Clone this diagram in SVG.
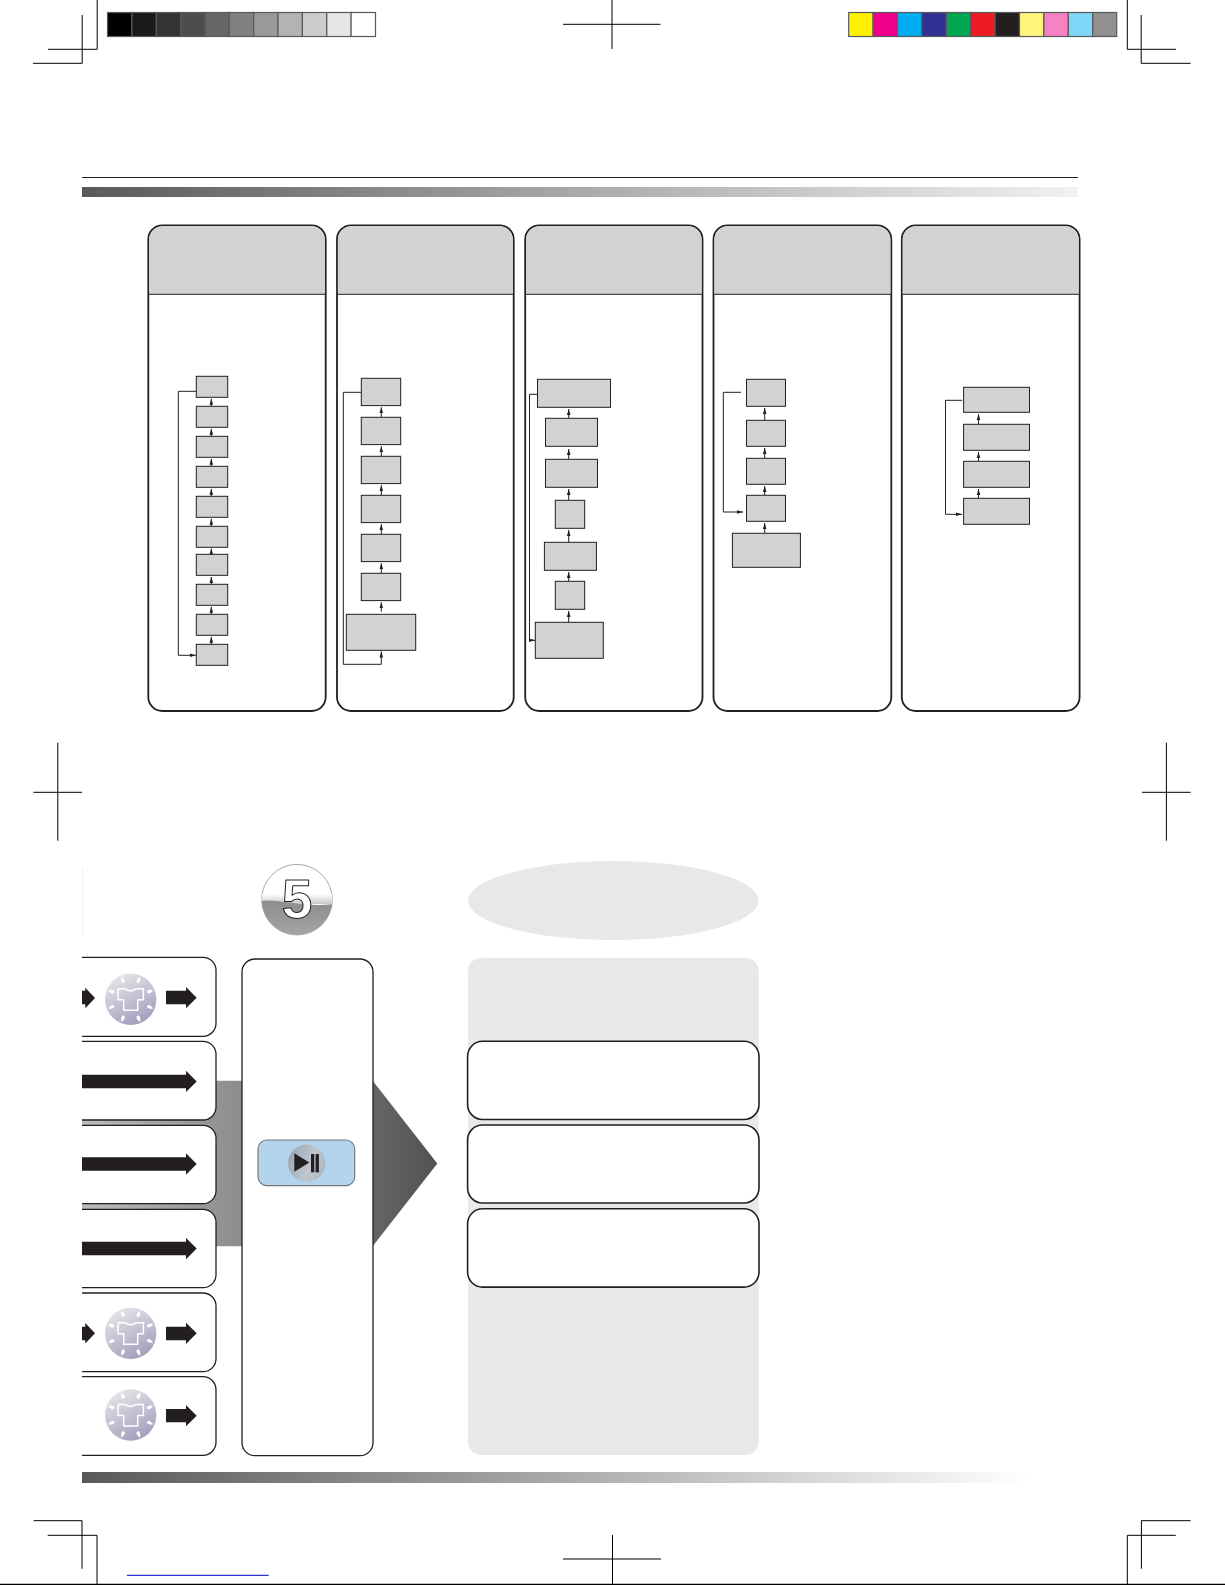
<svg xmlns="http://www.w3.org/2000/svg" xmlns:xlink="http://www.w3.org/1999/xlink" width="1225" height="1585" viewBox="0 0 1225 1585">
<style>
.crop{stroke:#000;stroke-width:1;fill:none}
.sw{stroke:#58595b;stroke-width:1.2}
.panel{fill:#fff;stroke:#231f20;stroke-width:1.8}
.head{fill:#d2d2d2}
.div{stroke:#231f20;stroke-width:1;fill:none}
.n{fill:#d2d2d2;stroke:#231f20;stroke-width:1}
.c{fill:none;stroke:#231f20;stroke-width:1}
.card{fill:#fff;stroke:#231f20;stroke-width:1.3}
.ar{fill:#231f20}
</style>
<defs>
<marker id="a" markerUnits="userSpaceOnUse" markerWidth="8" markerHeight="6" refX="6" refY="3" orient="auto"><path d="M0,1.2 L6,3 L0,4.8Z" fill="#231f20"/></marker>
<linearGradient id="bar1" x1="0" x2="1" y1="0" y2="0"><stop offset="0" stop-color="#58595b"/><stop offset=".5" stop-color="#a9a9a9"/><stop offset="1" stop-color="#f1f1f2"/></linearGradient>
<linearGradient id="bar2" x1="0" x2="1" y1="0" y2="0"><stop offset="0" stop-color="#58595b"/><stop offset=".5" stop-color="#a9a9a9"/><stop offset="1" stop-color="#fff"/></linearGradient>
<linearGradient id="flow" gradientUnits="userSpaceOnUse" x1="82" x2="437" y1="0" y2="0"><stop offset="0" stop-color="#bcbaba"/><stop offset="1" stop-color="#535152"/></linearGradient>
<linearGradient id="shirtbg" x1="0.2" y1="0" x2="0.7" y2="1"><stop offset="0" stop-color="#e8e8ea"/><stop offset="1" stop-color="#a09dbb"/></linearGradient>
<linearGradient id="badgeTop" x1="0" x2="0" y1="0" y2="1"><stop offset="0" stop-color="#fff"/><stop offset="1" stop-color="#c8c8c8"/></linearGradient>
<linearGradient id="badgeLow" gradientUnits="userSpaceOnUse" x1="0" x2="0" y1="902" y2="936"><stop offset="0" stop-color="#8f8d8e"/><stop offset="1" stop-color="#a5a5a6"/></linearGradient>
<linearGradient id="disc" x1="0" y1="0.3" x2="1" y2="0.7"><stop offset="0" stop-color="#9aa7b3"/><stop offset=".6" stop-color="#bfc8cf"/><stop offset="1" stop-color="#aab6c0"/></linearGradient>
<clipPath id="badgeClip"><circle cx="297" cy="899.7" r="35.3"/></clipPath>
<path id="drop" d="M0,-3.6 C2.3,0 2.3,3 0,3 C-2.3,3 -2.3,0 0,-3.6Z" fill="#fff"/>
<g id="shirtIcon">
<circle r="25.7" fill="url(#shirtbg)"/>
<use xlink:href="#drop" transform="rotate(22.5) translate(0,-20.8)"/>
<use xlink:href="#drop" transform="rotate(67.5) translate(0,-20.8)"/>
<use xlink:href="#drop" transform="rotate(112.5) translate(0,-20.8)"/>
<use xlink:href="#drop" transform="rotate(157.5) translate(0,-20.8)"/>
<use xlink:href="#drop" transform="rotate(-157.5) translate(0,-20.8)"/>
<use xlink:href="#drop" transform="rotate(-112.5) translate(0,-20.8)"/>
<use xlink:href="#drop" transform="rotate(-67.5) translate(0,-20.8)"/>
<use xlink:href="#drop" transform="rotate(-22.5) translate(0,-20.8)"/>
<path d="M-5,-10.5 Q0,-6.5 5,-10.5 L12.7,-10.5 L12.7,0.5 L7,0.5 L7,11 L-7,11 L-7,0.5 L-12.7,0.5 L-12.7,-10.5Z" fill="none" stroke="#fff" stroke-width="1.5" stroke-linejoin="round"/>
</g>
</defs>
<rect width="1225" height="1585" fill="#fff"/>

<g id="crop-marks" class="crop">
<path d="M97.2,0V49.3H48M82.2,15V63.3H33"/>
<path d="M612,0V49M563,24.3H660.5"/>
<path d="M1127.3,0V49.3H1176M1141.2,15V63.3H1190.6"/>
<path d="M57.8,742.7V840.7M33.4,792.3H82"/>
<path d="M1166.4,742.7V840.7M1142,792.3H1190.6"/>
<path d="M33.6,1520.7H82V1568.7M47.7,1535.3H97V1585"/>
<path d="M612.5,1535V1584M563,1559H661"/>
<path d="M1190.6,1520.7H1141.4V1568.7M1175.8,1535.3H1127.3V1585"/>
<path d="M0,1584.4H1225" stroke-width="1.4"/>
<path d="M127,1575.3H268.7" stroke="#0000cc"/>
</g>

<g id="gray-swatches" class="sw">
<rect x="107.5" y="12.5" width="24.4" height="24" fill="#000"/>
<rect x="131.9" y="12.5" width="24.4" height="24" fill="#1a1a1a"/>
<rect x="156.3" y="12.5" width="24.4" height="24" fill="#333"/>
<rect x="180.6" y="12.5" width="24.4" height="24" fill="#4d4d4d"/>
<rect x="205" y="12.5" width="24.4" height="24" fill="#666"/>
<rect x="229.3" y="12.5" width="24.4" height="24" fill="#808080"/>
<rect x="253.7" y="12.5" width="24.4" height="24" fill="#999"/>
<rect x="278" y="12.5" width="24.4" height="24" fill="#b3b3b3"/>
<rect x="302.4" y="12.5" width="24.4" height="24" fill="#ccc"/>
<rect x="326.8" y="12.5" width="24.4" height="24" fill="#e6e6e6"/>
<rect x="351.1" y="12.5" width="24.4" height="24" fill="#fff"/>
</g>
<g id="colour-swatches" class="sw">
<rect x="848.7" y="12.5" width="24.4" height="24" fill="#fff200"/>
<rect x="873.1" y="12.5" width="24.4" height="24" fill="#ec008c"/>
<rect x="897.5" y="12.5" width="24.4" height="24" fill="#00aeef"/>
<rect x="921.9" y="12.5" width="24.4" height="24" fill="#2e3192"/>
<rect x="946.3" y="12.5" width="24.4" height="24" fill="#00a651"/>
<rect x="970.7" y="12.5" width="24.4" height="24" fill="#ed1c24"/>
<rect x="995.1" y="12.5" width="24.4" height="24" fill="#231f20"/>
<rect x="1019.5" y="12.5" width="24.4" height="24" fill="#fff57c"/>
<rect x="1043.9" y="12.5" width="24.4" height="24" fill="#f682c4"/>
<rect x="1068.3" y="12.5" width="24.4" height="24" fill="#7fd6f7"/>
<rect x="1092.7" y="12.5" width="24" height="24" fill="#918f8f"/>
</g>

<g id="page-header">
<path d="M82,177.5H1078" stroke="#231f20" stroke-width="1"/>
<rect x="82" y="187" width="996" height="10" fill="url(#bar1)"/>
</g>

<g id="panel-1">
<rect class="panel" x="148.3" y="225.3" width="177.4" height="485.7" rx="14"/>
<path class="head" d="M149.2,294V240a14,14 0 0 1 14,-14H311a14,14 0 0 1 13.8,14V294Z"/>
<path class="div" d="M148.3,294.3H325.7"/>
</g>
<g id="panel-2">
<rect class="panel" x="337" y="225.3" width="176.7" height="485.7" rx="14"/>
<path class="head" d="M337.9,294V240a14,14 0 0 1 14,-14H499a14,14 0 0 1 13.8,14V294Z"/>
<path class="div" d="M337,294.3H513.7"/>
</g>
<g id="panel-3">
<rect class="panel" x="525.2" y="225.3" width="177.3" height="485.7" rx="14"/>
<path class="head" d="M526.1,294V240a14,14 0 0 1 14,-14H687.7a14,14 0 0 1 13.9,14V294Z"/>
<path class="div" d="M525.2,294.3H702.5"/>
</g>
<g id="panel-4">
<rect class="panel" x="713.5" y="225.3" width="177.8" height="485.7" rx="14"/>
<path class="head" d="M714.4,294V240a14,14 0 0 1 14,-14H876.5a14,14 0 0 1 13.9,14V294Z"/>
<path class="div" d="M713.5,294.3H891.3"/>
</g>
<g id="panel-5">
<rect class="panel" x="901.8" y="225.3" width="177.8" height="485.7" rx="14"/>
<path class="head" d="M902.7,294V240a14,14 0 0 1 14,-14H1064.8a14,14 0 0 1 13.9,14V294Z"/>
<path class="div" d="M901.8,294.3H1079.6"/>
</g>

<g id="connectors" class="c">
<path marker-end="url(#a)" d="M211.3,406.3V398.8"/>
<path marker-end="url(#a)" d="M211.3,436.3V428.8"/>
<path marker-end="url(#a)" d="M211.3,466.3V458.8"/>
<path marker-end="url(#a)" d="M211.3,496.3V488.8"/>
<path marker-end="url(#a)" d="M211.3,526.3V518.8"/>
<path marker-end="url(#a)" d="M211.3,554.3V548.5"/>
<path marker-end="url(#a)" d="M211.3,584.3V577"/>
<path marker-end="url(#a)" d="M211.3,614.3V606.8"/>
<path marker-end="url(#a)" d="M211.3,644.3V636.8"/>
<path marker-end="url(#a)" d="M196.3,391.3H178.3V655.3H195.8"/>
<path marker-end="url(#a)" d="M381.3,417.3V407.2"/>
<path marker-end="url(#a)" d="M381.3,456.3V446.2"/>
<path marker-end="url(#a)" d="M381.3,495.3V485.2"/>
<path marker-end="url(#a)" d="M381.3,534.3V524.2"/>
<path marker-end="url(#a)" d="M381.3,573.3V563.2"/>
<path marker-end="url(#a)" d="M381.3,611.7V602.2"/>
<path marker-end="url(#a)" d="M361.3,392.3H343.3V664.3H381.3V651.5"/>
<path marker-end="url(#a)" d="M568.7,418.3V409"/>
<path marker-end="url(#a)" d="M568.7,459.3V449"/>
<path marker-end="url(#a)" d="M568.7,500.3V489"/>
<path marker-end="url(#a)" d="M568.7,542.3V530"/>
<path marker-end="url(#a)" d="M568.7,581.3V572"/>
<path marker-end="url(#a)" d="M568.7,622.3V611"/>
<path marker-end="url(#a)" d="M537.5,394.3H529.5V640.3H535"/>
<path marker-end="url(#a)" d="M764.7,420.3V408"/>
<path marker-end="url(#a)" d="M764.7,458.3V448"/>
<path marker-end="url(#a)" d="M764.7,495.3V486"/>
<path marker-end="url(#a)" d="M764.7,533.3V523"/>
<path marker-end="url(#a)" d="M741,392.3H723.3V512H743"/>
<path marker-end="url(#a)" d="M978.5,424.3V414"/>
<path marker-end="url(#a)" d="M978.5,461.3V452"/>
<path marker-end="url(#a)" d="M978.5,498.3V489"/>
<path marker-end="url(#a)" d="M962.2,400.3H945.5V514.3H962"/>
</g>

<g id="chart-1" class="n">
<rect x="196.3" y="376.3" width="31.4" height="21"/>
<rect x="196.3" y="406.3" width="31.4" height="21"/>
<rect x="196.3" y="436.3" width="31.4" height="21"/>
<rect x="196.3" y="466.3" width="31.4" height="21"/>
<rect x="196.3" y="496.3" width="31.4" height="21"/>
<rect x="196.3" y="526.3" width="31.4" height="21"/>
<rect x="196.3" y="554.3" width="31.4" height="21"/>
<rect x="196.3" y="584.3" width="31.4" height="21"/>
<rect x="196.3" y="614.3" width="31.4" height="21"/>
<rect x="196.3" y="644.3" width="31.4" height="21"/>
</g>
<g id="chart-2" class="n">
<rect x="361.3" y="378.3" width="39.4" height="27.3"/>
<rect x="361.3" y="417.3" width="39.4" height="27.3"/>
<rect x="361.3" y="456.3" width="39.4" height="27.3"/>
<rect x="361.3" y="495.3" width="39.4" height="27.3"/>
<rect x="361.3" y="534.3" width="39.4" height="27.3"/>
<rect x="361.3" y="573.3" width="39.4" height="27.3"/>
<rect x="346.3" y="614.3" width="69.4" height="36"/>
</g>
<g id="chart-3" class="n">
<rect x="537.5" y="379.3" width="73" height="28"/>
<rect x="545.5" y="418.3" width="52" height="28"/>
<rect x="545.5" y="459.3" width="52" height="28"/>
<rect x="555.3" y="500.3" width="29.4" height="28"/>
<rect x="544.4" y="542.3" width="52" height="28"/>
<rect x="555.3" y="581.3" width="29.4" height="28"/>
<rect x="535.3" y="622.3" width="68" height="36"/>
</g>
<g id="chart-4" class="n">
<rect x="746.5" y="379.3" width="39" height="27"/>
<rect x="746.5" y="420.3" width="39" height="26"/>
<rect x="746.5" y="458.3" width="39" height="26"/>
<rect x="746.5" y="495.3" width="39" height="26"/>
<rect x="732.4" y="533.3" width="68" height="34"/>
</g>
<g id="chart-5" class="n">
<rect x="963.6" y="387.3" width="65.9" height="25"/>
<rect x="963.6" y="424.3" width="65.9" height="26"/>
<rect x="963.6" y="461.3" width="65.9" height="26"/>
<rect x="963.6" y="498.3" width="65.9" height="26"/>
</g>

<g id="step-badge">
<circle cx="297" cy="899.7" r="35.3" fill="#fff" stroke="#a7a9ac" stroke-width="1"/>
<g clip-path="url(#badgeClip)">
<rect x="261" y="894" width="72" height="10" fill="url(#badgeTop)"/>
<path d="M261,901 C280,898 300,908 333,904 V940 H261Z" fill="url(#badgeLow)"/>
</g>
<text x="297" y="918" text-anchor="middle" font-family="'Liberation Sans',Arial,sans-serif" font-weight="bold" font-size="55" fill="#fff" stroke="#231f20" stroke-width="1" stroke-linejoin="round">5</text>
</g>

<g id="flow-arrow">
<path d="M82,1080.7H372.7L437.3,1163.5L372.7,1246.3H82Z" fill="url(#flow)"/>
</g>

<g id="left-strip">
<path d="M82.7,868V935" stroke="#eeeeee" stroke-width="1" fill="none"/>
</g>

<g id="card-1">
<path class="card" d="M82,957.3H203a13,13 0 0 1 13,13V1023.3a13,13 0 0 1 -13,13H82"/>
<path class="ar" d="M82,990.7H85.3V987.8L95,998L85.3,1008.3V1004.3H82Z"/>
<use xlink:href="#shirtIcon" x="130.7" y="999.3"/>
<path class="ar" d="M166,990.7H186V987L196.7,997.7L186,1008.3V1004.3H166Z"/>
</g>
<g id="card-2">
<path class="card" d="M82,1041.3H203a13,13 0 0 1 13,13V1107a13,13 0 0 1 -13,13H82"/>
<path class="ar" d="M82,1074.7H186V1070.7L196.7,1081.5L186,1092V1088.3H82Z"/>
</g>
<g id="card-3">
<path class="card" d="M82,1125.3H203a13,13 0 0 1 13,13V1190.7a13,13 0 0 1 -13,13H82"/>
<path class="ar" d="M82,1157.2H186V1153.3L196.7,1164L186,1174.7V1170.8H82Z"/>
</g>
<g id="card-4">
<path class="card" d="M82,1209.3H203a13,13 0 0 1 13,13V1274.7a13,13 0 0 1 -13,13H82"/>
<path class="ar" d="M82,1241.7H186V1238L196.7,1248.5L186,1259.3V1255.3H82Z"/>
</g>
<g id="card-5">
<path class="card" d="M82,1293H203a13,13 0 0 1 13,13V1358.7a13,13 0 0 1 -13,13H82"/>
<path class="ar" d="M82,1326.7H85.3V1323L95,1333.3L85.3,1343.6V1340.3H82Z"/>
<use xlink:href="#shirtIcon" x="130.7" y="1333.3"/>
<path class="ar" d="M166,1326.7H186V1322.7L196.7,1333.3L186,1344V1340.3H166Z"/>
</g>
<g id="card-6">
<path class="card" d="M82,1376.7H203a13,13 0 0 1 13,13V1442.3a13,13 0 0 1 -13,13H82"/>
<use xlink:href="#shirtIcon" x="130.7" y="1415"/>
<path class="ar" d="M166,1409H186V1405L196.7,1415.7L186,1426.3V1422.3H166Z"/>
</g>

<g id="control-card">
<rect class="card" x="242" y="959" width="131" height="496.7" rx="13"/>
<rect x="258" y="1140" width="96.7" height="45.7" rx="9" fill="#b3d4ec" stroke="#77787b" stroke-width="1.2"/>
<circle cx="306.7" cy="1163.3" r="18.7" fill="url(#disc)"/>
<path class="ar" d="M294.3,1153.3L309.3,1162.5L294.3,1171.7Z"/>
<rect class="ar" x="311" y="1154" width="3.3" height="18.3"/>
<rect class="ar" x="315.6" y="1154" width="3.3" height="18.3"/>
</g>

<g id="result-title"><ellipse cx="613.3" cy="900.6" rx="145.3" ry="39.5" fill="#e8e8e8"/></g>
<g id="result-panel"><rect x="468" y="958" width="290.7" height="497" rx="13" fill="#e8e8e8"/></g>
<g id="result-1"><rect x="467.6" y="1041.3" width="291.4" height="78.2" rx="15" fill="#fff" stroke="#231f20" stroke-width="1.6"/></g>
<g id="result-2"><rect x="467.6" y="1125" width="291.4" height="78" rx="15" fill="#fff" stroke="#231f20" stroke-width="1.6"/></g>
<g id="result-3"><rect x="467.6" y="1208.8" width="291.4" height="78.3" rx="15" fill="#fff" stroke="#231f20" stroke-width="1.6"/></g>

<g id="page-footer"><rect x="82" y="1472" width="948" height="11" fill="url(#bar2)"/></g>
</svg>
